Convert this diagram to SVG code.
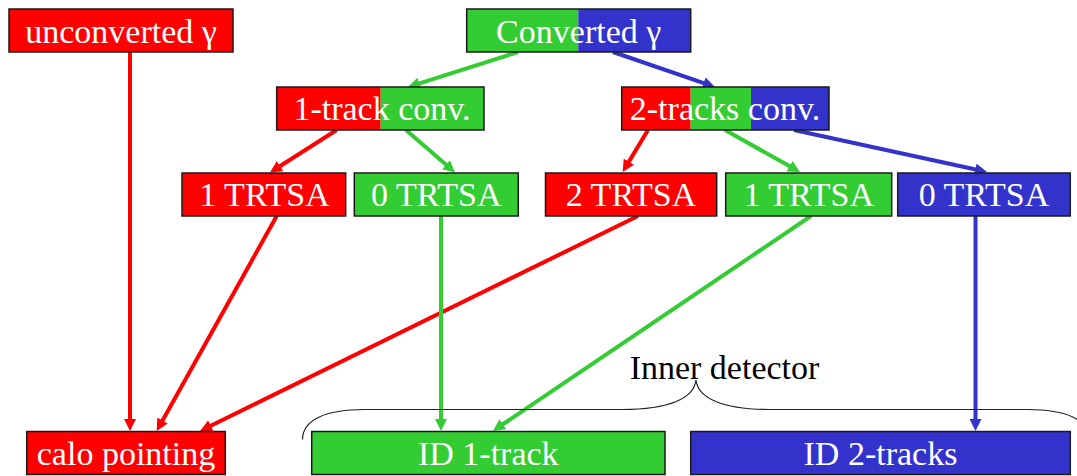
<svg xmlns="http://www.w3.org/2000/svg" width="1077" height="476" viewBox="0 0 1077 476">
<style>
  .lbl{font-family:"Liberation Serif","Times New Roman",serif;font-size:34px;fill:#fff;text-anchor:middle}
  .cap{font-family:"Liberation Serif","Times New Roman",serif;font-size:34px;fill:#000;text-anchor:middle}
  .frame{fill:none;stroke:#1a1a1a;stroke-width:1.5}
  .r{fill:#FF0000}
  .g{fill:#33CC33}
  .b{fill:#3333CC}
  .cr{stroke:#FF0000;stroke-width:4;fill:none;marker-end:url(#ar)}
  .cg{stroke:#33CC33;stroke-width:4;fill:none;marker-end:url(#ag)}
  .cb{stroke:#3333CC;stroke-width:4;fill:none;marker-end:url(#ab)}
  .brace{fill:none;stroke:#222;stroke-width:1.2}
</style>
<defs>
  <marker id="ar" markerUnits="userSpaceOnUse" viewBox="0 0 12 12" markerWidth="12" markerHeight="12" refX="4" refY="6" orient="auto"><path d="M0,0 L12,6 L0,12 z" fill="#FF0000"/></marker>
  <marker id="ag" markerUnits="userSpaceOnUse" viewBox="0 0 12 12" markerWidth="12" markerHeight="12" refX="4" refY="6" orient="auto"><path d="M0,0 L12,6 L0,12 z" fill="#33CC33"/></marker>
  <marker id="ab" markerUnits="userSpaceOnUse" viewBox="0 0 12 12" markerWidth="12" markerHeight="12" refX="4" refY="6" orient="auto"><path d="M0,0 L12,6 L0,12 z" fill="#3333CC"/></marker>
</defs>
<rect width="1077" height="476" fill="#fff"/>

<g id="connectors">
  <line class="cr" x1="130" y1="52" x2="130" y2="423"/>
  <line class="cr" x1="336.7" y1="130" x2="276.7" y2="168.2"/>
  <line class="cr" x1="276.7" y1="216" x2="160.6" y2="424"/>
  <line class="cr" x1="638" y1="216" x2="207.2" y2="427.5"/>
  <line class="cr" x1="648" y1="130" x2="626.8" y2="165.1"/>
  <line class="cg" x1="518" y1="52" x2="415.6" y2="84.6"/>
  <line class="cg" x1="406" y1="130" x2="449" y2="167.3"/>
  <line class="cg" x1="441" y1="216" x2="441" y2="423"/>
  <line class="cg" x1="725" y1="130" x2="793" y2="168.1"/>
  <line class="cg" x1="811" y1="216" x2="499.6" y2="426.5"/>
  <line class="cb" x1="613" y1="52" x2="707.4" y2="84.4"/>
  <line class="cb" x1="794" y1="130" x2="979.2" y2="170.3"/>
  <line class="cb" x1="975.5" y1="216" x2="975.5" y2="423"/>
</g>

<g id="unconverted">
  <rect class="r" x="9" y="9" width="224" height="43"/>
  <rect class="frame" x="9" y="9" width="224" height="43"/>
  <text class="lbl" x="121" y="42.5">unconverted γ</text>
</g>
<g id="converted">
  <rect class="g" x="466.7" y="9" width="111.6" height="43"/>
  <rect class="b" x="578.3" y="9" width="112.4" height="43"/>
  <rect class="frame" x="466.7" y="9" width="224" height="43"/>
  <text class="lbl" x="578.7" y="42.5">Converted γ</text>
</g>
<g id="conv1">
  <rect class="r" x="276.7" y="87" width="104" height="43"/>
  <rect class="g" x="380.7" y="87" width="103.3" height="43"/>
  <rect class="frame" x="276.7" y="87" width="207.3" height="43"/>
  <text class="lbl" x="382" y="120">1-track conv.</text>
</g>
<g id="conv2">
  <rect class="r" x="621.7" y="87" width="69" height="43"/>
  <rect class="g" x="690.7" y="87" width="60.3" height="43"/>
  <rect class="b" x="751" y="87" width="78" height="43"/>
  <rect class="frame" x="621.7" y="87" width="207.3" height="43"/>
  <text class="lbl" x="725" y="120">2-tracks conv.</text>
</g>
<g id="trt1a">
  <rect class="r" x="182" y="173" width="163.7" height="43"/>
  <rect class="frame" x="182" y="173" width="163.7" height="43"/>
  <text class="lbl" x="264.5" y="206">1 TRTSA</text>
</g>
<g id="trt0a">
  <rect class="g" x="354.3" y="173" width="164" height="43"/>
  <rect class="frame" x="354.3" y="173" width="164" height="43"/>
  <text class="lbl" x="436.3" y="206">0 TRTSA</text>
</g>
<g id="trt2b">
  <rect class="r" x="545.5" y="173" width="171.2" height="43"/>
  <rect class="frame" x="545.5" y="173" width="171.2" height="43"/>
  <text class="lbl" x="631" y="206">2 TRTSA</text>
</g>
<g id="trt1b">
  <rect class="g" x="725.7" y="173" width="166" height="43"/>
  <rect class="frame" x="725.7" y="173" width="166" height="43"/>
  <text class="lbl" x="808.7" y="206">1 TRTSA</text>
</g>
<g id="trt0b">
  <rect class="b" x="897.7" y="173" width="172.6" height="43"/>
  <rect class="frame" x="897.7" y="173" width="172.6" height="43"/>
  <text class="lbl" x="984" y="206">0 TRTSA</text>
</g>
<g id="calo">
  <rect class="r" x="26.7" y="431.5" width="198.6" height="43"/>
  <rect class="frame" x="26.7" y="431.5" width="198.6" height="43"/>
  <text class="lbl" x="126" y="464.5">calo pointing</text>
</g>
<g id="id1">
  <rect class="g" x="311.7" y="431.5" width="353.3" height="43"/>
  <rect class="frame" x="311.7" y="431.5" width="353.3" height="43"/>
  <text class="lbl" x="488.3" y="464.5">ID 1-track</text>
</g>
<g id="id2">
  <rect class="b" x="690.7" y="431.5" width="379.6" height="43"/>
  <rect class="frame" x="690.7" y="431.5" width="379.6" height="43"/>
  <text class="lbl" x="880.5" y="464.5">ID 2-tracks</text>
</g>

<g id="inner-detector">
  <path class="brace" d="M302.5,439.5 C302.5,420 325,409.5 365,409.5 L622,409.5 C670,409.5 694,398 696,380 C698,398 722,409.5 770,409.5 L1027,409.5 C1067,409.5 1089.5,420 1089.5,439.5"/>
  <text class="cap" x="724.5" y="379">Inner detector</text>
</g>
</svg>
